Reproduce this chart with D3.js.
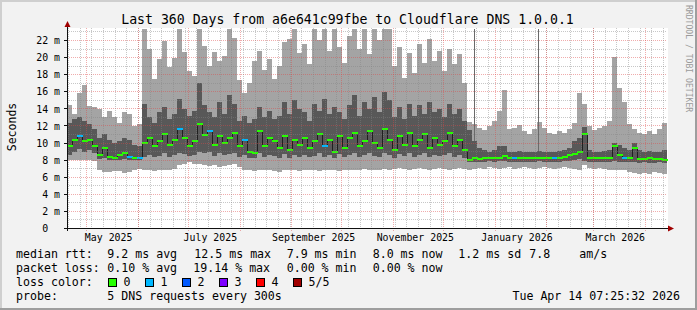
<!DOCTYPE html>
<html>
<head>
<meta charset="utf-8">
<script src="https://cdn.jsdelivr.net/npm/d3@7"></script>
<style>
html,body{margin:0;padding:0;background:#f2f2f2;}
svg{display:block;font-family:"DejaVu Sans Mono",monospace;}
text{white-space:pre;}
</style>
</head>
<body>
<svg id="chart" width="697" height="310"></svg>
<script>
// ---- data (ms), one value per 3-day bin, 120 bins ----
var startTime=new Date(2025,3,19,7,25,32);
var endTime=new Date(2026,3,14,7,25,32);
var binDays=3;

var rttMin=[
	8.0,8.0,8.0,8.0,8.0,7.9,6.8,6.6,6.6,6.7,
	6.7,6.5,6.6,6.8,7.0,6.8,6.8,6.7,6.8,6.9,
	6.8,7.0,7.4,7.6,7.8,7.6,7.5,7.4,7.3,7.4,
	7.2,7.3,7.4,7.5,7.2,6.9,6.8,6.7,6.8,6.9,
	6.8,6.7,6.6,6.8,6.9,6.8,6.7,6.8,6.9,6.8,
	6.7,6.8,6.9,6.8,6.7,6.8,6.9,6.8,6.9,7.0,
	6.9,6.8,6.9,7.0,6.9,7.0,7.1,7.0,6.9,7.0,
	7.1,7.0,6.9,7.0,7.1,7.0,6.9,7.0,7.1,7.0,
	6.8,7.0,7.1,7.0,7.2,7.1,7.0,7.1,7.2,7.0,
	7.1,7.2,7.1,7.0,7.1,7.2,7.1,7.0,7.1,7.2,
	7.1,7.0,6.9,7.4,7.1,7.0,7.1,7.0,6.9,6.8,
	6.9,6.8,6.6,6.5,6.4,6.5,6.4,6.6,6.5,6.4
];
var rttLo=[
	8.6,9.0,9.3,9.0,9.2,8.8,8.1,8.3,8.0,8.0,
	8.0,8.1,8.0,8.0,8.0,8.4,8.6,8.4,8.5,8.8,
	8.4,8.6,8.8,8.7,8.5,8.6,9.0,8.8,8.9,8.5,
	8.8,8.6,8.7,8.8,8.4,8.6,8.2,8.2,8.8,8.4,
	8.6,8.5,8.3,8.7,8.3,8.6,8.4,8.6,8.4,8.5,
	8.8,8.4,8.6,8.3,8.7,8.4,8.6,8.8,8.4,8.6,
	8.8,8.5,8.4,8.8,8.6,8.3,8.7,8.5,8.8,8.4,
	8.6,8.8,8.4,8.6,8.5,8.6,8.8,8.4,8.6,8.2,
	7.8,7.8,7.8,7.8,7.9,7.8,7.9,7.9,7.8,7.8,
	7.8,7.8,7.8,7.8,7.9,7.8,7.8,7.8,7.8,7.9,
	7.9,8.0,8.1,7.9,7.8,7.8,7.8,7.8,7.8,7.9,
	7.8,7.8,7.8,7.8,7.7,7.8,7.7,7.7,7.8,7.7
];
var rttMedian=[
	9.6,10.4,10.8,10.2,10.3,9.6,8.6,9.4,8.4,8.2,
	8.6,8.8,8.4,8.2,8.2,10.0,10.6,9.6,10.2,11.0,
	9.8,10.4,11.6,10.6,9.6,10.2,12.2,10.9,11.4,9.8,
	10.8,10.0,10.6,11.2,9.6,10.4,9.0,8.8,11.4,9.6,
	10.6,10.2,9.4,10.8,9.2,10.4,9.8,10.6,9.4,10.2,
	11.0,9.6,10.4,9.0,10.8,9.4,10.6,11.2,9.6,10.2,
	11.4,10.0,9.4,11.6,10.4,9.2,10.8,9.8,11.2,9.6,
	10.4,11.0,9.4,10.6,9.8,10.2,11.2,9.6,10.4,9.2,
	8.0,8.2,8.1,8.2,8.2,8.3,8.3,8.5,8.2,8.2,
	8.2,8.2,8.2,8.2,8.3,8.2,8.2,8.3,8.3,8.4,
	8.6,8.7,8.9,11.0,8.2,8.2,8.2,8.2,8.2,9.6,
	8.6,8.3,8.2,9.4,8.1,8.1,8.2,8.1,8.1,8.0
];
var rttHi=[
	12.4,12.8,13.0,12.6,12.2,11.6,10.6,11.0,10.4,10.0,
	10.2,10.6,10.4,9.8,9.6,14.6,13.0,12.4,13.6,14.2,
	12.8,13.4,15.2,14.0,13.2,13.8,17.0,14.4,13.6,13.0,
	14.8,13.4,15.6,14.6,12.6,13.2,12.4,12.8,14.2,13.0,
	13.8,12.8,13.2,14.8,13.4,15.0,14.0,13.6,12.6,14.6,
	13.8,15.2,13.4,14.2,13.6,12.8,14.4,15.6,13.2,14.8,
	14.0,15.4,13.6,16.0,15.0,13.0,14.2,12.8,14.6,13.2,
	14.4,13.4,14.8,13.6,14.0,13.0,14.6,13.4,14.0,12.6,
	11.5,10.2,9.4,9.2,9.0,9.2,9.7,9.7,9.0,9.0,
	9.1,9.0,8.9,9.0,9.1,9.0,8.9,9.0,9.1,9.2,
	9.4,10.2,10.6,11.9,9.2,9.0,9.0,9.1,9.2,10.0,
	9.8,9.4,9.2,10.0,9.2,9.0,9.1,9.0,9.0,9.2
];
var rttMax=[
	14.5,13.4,15.8,16.8,14.3,14.2,14.0,13.0,13.8,13.0,
	12.4,13.6,13.4,12.0,12.2,23.5,21.0,17.5,19.8,21.9,
	18.9,20.0,23.5,20.6,18.4,17.8,23.5,21.4,19.0,20.6,
	19.6,20.2,23.5,22.3,17.4,15.9,17.0,19.6,20.8,18.5,
	19.8,17.5,19.0,21.8,22.2,23.5,20.5,21.6,19.2,23.5,
	22.0,23.5,20.8,23.5,21.2,19.4,22.5,23.5,21.0,23.5,
	20.4,23.5,22.0,23.5,23.5,19.0,21.2,17.6,20.5,18.2,
	21.6,19.4,22.2,19.6,20.8,18.4,21.0,19.2,20.4,17.0,
	12.5,12.2,11.8,11.5,12.0,12.6,13.8,16.2,11.6,11.8,
	12.1,11.4,11.0,11.6,12.5,11.8,11.2,11.0,11.4,11.2,
	11.6,12.4,15.8,14.6,12.0,11.5,11.8,12.0,12.6,20.1,
	16.4,14.8,12.2,11.6,11.2,11.0,11.4,11.0,11.6,12.3
];
// lost pings (of 5) per bin
var lossPerBin=[
	0,0,1,0,0,0,0,0,0,0,
	0,0,1,0,1,0,0,0,0,0,
	0,0,1,0,0,0,0,0,1,0,
	0,0,0,0,0,1,0,0,0,0,
	0,0,0,0,0,0,0,0,0,0,
	0,1,0,0,0,0,0,0,0,0,
	0,0,0,0,0,0,0,0,0,0,
	0,0,0,0,0,0,0,0,0,0,
	0,0,0,0,0,0,0,0,0,1,
	0,0,0,0,0,0,0,1,0,0,
	0,0,0,0,0,0,0,0,0,0,
	0,1,0,0,0,0,0,0,0,0
];
// single thin outliers (day offset from start, top in ms)
var spikeDays=[244.2,282.6];
var spikeTop=[23.5,23.5];

var yTicks=[0,2,4,6,8,10,12,14,16,18,20,22];
var lossLabels=['0','1','2','3','4','5/5'];
var lossColors=['#26ff00','#00b8ff','#0059ff','#7e00ff','#ff0000','#a00000'];
var rttStats=['9.2 ms avg','12.5 ms max','7.9 ms min','8.0 ms now','1.2 ms sd','7.8','am/s'];
var lossStats=['0.10 % avg','19.14 % max','0.00 % min','0.00 % now'];
var probeText='5 DNS requests every 300s';
var stampText='Tue Apr 14 07:25:32 2026';
var titleText='Last 360 Days from a6e641c99fbe to Cloudflare DNS 1.0.0.1';

// ---- drawing ----
var svg=d3.select('#chart');
var W=697, H=310;
var L=67, R=667, T=28, B=228;

var x=d3.scaleTime().domain([startTime,endTime]).range([L,R]);
var y=d3.scaleLinear().domain([0,23.4]).range([B+0.5,T+0.5]).clamp(true);

function binStart(i) { return new Date(+startTime+i*binDays*864e5); }
function bx0(i) { return Math.round(x(binStart(i))); }
function bx1(i) { return Math.round(x(binStart(i+1))); }

// background + 3d frame
svg.append('rect').attr('width',W).attr('height',H).attr('fill','#f2f2f2');
svg.append('path').attr('d','M0,1H'+W+'M1,0V'+H).attr('stroke','#cfcfcf').attr('stroke-width',2);
svg.append('path').attr('d','M0,'+(H-1)+'H'+W+'M'+(W-1)+',0V'+H).attr('stroke','#9e9e9e').attr('stroke-width',2);
svg.append('rect').attr('x',L).attr('y',T).attr('width',R-L+1).attr('height',B-T+1).attr('fill','#ffffff');

var idx=d3.range(rttMedian.length);
var plot=svg.append('g').attr('shape-rendering','crispEdges');

// outer smoke (ping 1..5)
plot.selectAll('.outer').data(idx).enter().append('rect')
	.attr('x',function(i) {return bx0(i);})
	.attr('width',function(i) {return bx1(i)-bx0(i);})
	.attr('y',function(i) {return Math.round(y(rttMax[i]));})
	.attr('height',function(i) {return Math.round(y(rttMin[i]))-Math.round(y(rttMax[i]));})
	.attr('fill','#a4a4a4');

// inner smoke (ping 2..4)
plot.selectAll('.inner').data(idx).enter().append('rect')
	.attr('x',function(i) {return bx0(i);})
	.attr('width',function(i) {return bx1(i)-bx0(i);})
	.attr('y',function(i) {return Math.round(y(rttHi[i]));})
	.attr('height',function(i) {return Math.round(y(rttLo[i]))-Math.round(y(rttHi[i]));})
	.attr('fill','#585858');

// thin outliers
spikeDays.forEach(function(d,k) {
	var t=new Date(+startTime+d*864e5);
	var i=Math.floor(d/binDays);
	var px=Math.round(x(t))+0.5;
	plot.append('line').attr('x1',px).attr('x2',px)
		.attr('y1',y(rttHi[i])).attr('y2',y(spikeTop[k]))
		.attr('stroke','#6a6a6a').attr('stroke-width',1);
});

// dark median step line
var steps=[];
idx.forEach(function(i) {steps.push([bx0(i),rttMedian[i]]);});
steps.push([bx1(idx.length-1),rttMedian[idx.length-1]]);
plot.append('path')
	.attr('d',d3.line().x(function(p) {return p[0]+0.5;}).y(function(p) {return Math.round(y(p[1]))+0.5;}).curve(d3.curveStepAfter)(steps))
	.attr('fill','none').attr('stroke','#202020').attr('stroke-width',1);

// loss coloured median
plot.selectAll('.med').data(idx).enter().append('rect')
	.attr('x',function(i) {return bx0(i);})
	.attr('width',function(i) {return bx1(i)-bx0(i)+1;})
	.attr('y',function(i) {return Math.round(y(rttMedian[i]))-1;})
	.attr('height',2)
	.attr('fill',function(i) {return lossColors[lossPerBin[i]];});

// grid (on top, like rrdtool)
var grid=svg.append('g').attr('shape-rendering','crispEdges').attr('stroke-dasharray','1,1');
var minorCol='rgba(130,130,130,0.45)', majorCol='rgba(222,70,70,0.45)';
d3.range(1,24).forEach(function(v) {
	var py=Math.floor(y(v))+0.5;
	grid.append('line').attr('x1',L).attr('x2',R).attr('y1',py).attr('y2',py)
		.attr('stroke',v%2 ? minorCol : majorCol);
});
var months=d3.timeMonth.range(startTime,endTime);
d3.timeWeek.range(startTime,endTime).forEach(function(d) {
	var px=Math.round(x(d))+0.5;
	grid.append('line').attr('x1',px).attr('x2',px).attr('y1',T).attr('y2',B+2).attr('stroke',minorCol);
});
months.forEach(function(d) {
	var px=Math.round(x(d))+0.5;
	grid.append('line').attr('x1',px).attr('x2',px).attr('y1',T).attr('y2',B+3).attr('stroke',majorCol);
});

// y axis labels
var yAxis=d3.axisLeft(y).tickValues(yTicks).tickSize(0).tickPadding(7)
	.tickFormat(function(d) {return d===0 ? '0  ' : d+' m';});
var gy=svg.append('g').attr('transform','translate('+L+',0)').call(yAxis);
gy.select('.domain').remove();
gy.selectAll('text').attr('font-size','9.9px').attr('fill','#000').attr('font-family','DejaVu Sans Mono');
yTicks.forEach(function(v) {
	svg.append('line').attr('x1',L-3).attr('x2',L).attr('y1',Math.floor(y(v))+0.5).attr('y2',Math.floor(y(v))+0.5)
		.attr('stroke','#101010').attr('shape-rendering','crispEdges');
});

// x axis labels (every two months, centred in the month)
var labelDates=d3.timeMonth.every(2).range(startTime,endTime).map(function(d) {return d3.timeDay.offset(d,13);});
var xAxis=d3.axisBottom(x).tickValues(labelDates).tickSize(0).tickPadding(5).tickFormat(d3.timeFormat('%B %Y'));
var gx=svg.append('g').attr('transform','translate(0,'+(B+1)+')').call(xAxis);
gx.select('.domain').remove();
gx.selectAll('text').attr('font-size','9.9px').attr('fill','#000').attr('font-family','DejaVu Sans Mono');

// axis lines + arrows
svg.append('line').attr('x1',L-3).attr('x2',R+3).attr('y1',B+0.5).attr('y2',B+0.5).attr('stroke','#101010').attr('shape-rendering','crispEdges');
svg.append('line').attr('x1',L+0.5).attr('x2',L+0.5).attr('y1',T-2).attr('y2',B+3).attr('stroke','#101010').attr('shape-rendering','crispEdges');
svg.append('path').attr('d','M'+(R+1)+','+(B-2.5)+'L'+(R+7)+','+(B+0.5)+'L'+(R+1)+','+(B+3.5)+'Z').attr('fill','#a00000');
svg.append('path').attr('d','M'+(L-2.5)+','+(T-1)+'L'+(L+0.5)+','+(T-7)+'L'+(L+3.5)+','+(T-1)+'Z').attr('fill','#a00000');

// title, y label, watermark
svg.append('text').attr('x',347.5).attr('y',24).attr('text-anchor','middle')
	.attr('font-size','13.2px').text(titleText);
svg.append('text').attr('transform','translate(15.5,127) rotate(-90)').attr('text-anchor','middle')
	.attr('font-size','11.5px').text('Seconds');
svg.append('text').attr('transform','translate(686,5) rotate(90)').attr('text-anchor','start')
	.attr('font-size','8.1px').attr('fill','#9a9a9a').text('RRDTOOL / TOBI OETIKER');

// legend
var fs='11.6px';
function legendText(px,py,s,anchor) {
	svg.append('text').attr('x',px).attr('y',py).attr('font-size',fs)
		.attr('text-anchor',anchor||'start').attr('fill','#000').text(s);
}
var rttX=[107.3,194.3,286.7,372.7,458.3,529.3,579.3];
var lossX=[107.3,193.3,286.7,372.7];
legendText(16,258,'median rtt:');
rttStats.forEach(function(s,k) {legendText(rttX[k],258,s);});
legendText(16,272,'packet loss:');
lossStats.forEach(function(s,k) {legendText(lossX[k],272,s);});
legendText(16,286,'loss color:');
lossLabels.forEach(function(s,k) {
	var bxp=108.5+k*37;
	svg.append('rect').attr('x',bxp).attr('y',278.5).attr('width',8).attr('height',8)
		.attr('fill',lossColors[k]).attr('stroke','#000').attr('stroke-width',1);
	legendText(bxp+15,286,s);
});
legendText(16,300,'probe:');
legendText(107.3,300,probeText);
legendText(680,300,stampText,'end');
</script>
</body>
</html>
